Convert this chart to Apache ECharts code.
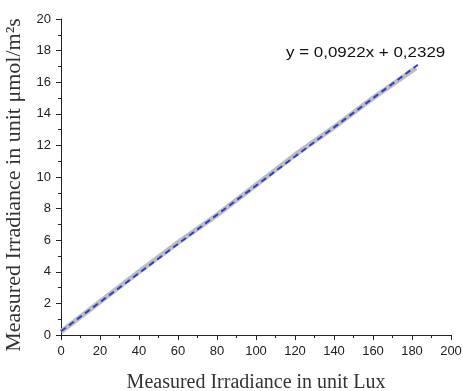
<!DOCTYPE html>
<html>
<head>
<meta charset="utf-8">
<script src="https://cdn.jsdelivr.net/npm/echarts@6/dist/echarts.min.js"></script>
<style>
  html, body { margin: 0; padding: 0; background: #fff; }
  #chart { width: 463px; height: 391px; }
</style>
</head>
<body>
<div id="chart"></div>
<script>
// measured points (lux -> umol/m2s)
var luxValues = [0, 10, 20, 40, 60, 80, 100, 120, 140, 160, 182];
var parValues = [0.2, 1.15, 2.1, 4.0, 5.85, 7.6, 9.5, 11.4, 13.15, 15.0, 16.9];

// linear fit shown in the chart
var slope = 0.0922;
var intercept = 0.2329;
var fitRange = [0, 183];
var fitLabel = 'y = 0,0922x + 0,2329';

var xTicks = [0, 200, 20];
var yTicks = [0, 20, 2];

var measured = luxValues.map(function (x, i) { return [x, parValues[i]]; });
var fitted = fitRange.map(function (x) { return [x, slope * x + intercept]; });

var chart = echarts.init(document.getElementById('chart'));
chart.setOption({
  animation: false,
  backgroundColor: '#ffffff',
  grid: { left: 61, right: 12, top: 19, bottom: 56, containLabel: false, outerBoundsMode: 'none' },
  xAxis: {
    type: 'value',
    min: xTicks[0], max: xTicks[1], interval: xTicks[2],
    name: 'Measured Irradiance in unit Lux',
    nameLocation: 'middle',
    nameGap: 38,
    nameTextStyle: { fontFamily: 'Liberation Serif', fontSize: 20, color: '#333' },
    axisLine: { lineStyle: { color: '#222', width: 1 } },
    axisTick: { inside: false, length: 5, lineStyle: { color: '#222' } },
    minorTick: { show: true, splitNumber: 2, length: 3, lineStyle: { color: '#222' } },
    axisLabel: { fontFamily: 'Liberation Sans', fontSize: 13, color: '#222', margin: 10 },
    splitLine: { show: false }
  },
  yAxis: {
    type: 'value',
    min: yTicks[0], max: yTicks[1], interval: yTicks[2],
    name: 'Measured Irradiance in unit \u03bcmol/m\u00b2s',
    nameLocation: 'middle',
    nameGap: 32,
    nameTextStyle: { fontFamily: 'Liberation Serif', fontSize: 22, color: '#333', padding: [0, 16, 0, 0] },
    axisLine: { show: true, lineStyle: { color: '#222', width: 1 } },
    axisTick: { show: true, inside: false, length: 5, lineStyle: { color: '#222' } },
    minorTick: { show: true, splitNumber: 2, length: 3, lineStyle: { color: '#222' } },
    axisLabel: { fontFamily: 'Liberation Sans', fontSize: 13, color: '#222', margin: 10 },
    splitLine: { show: false }
  },
  graphic: [{
    type: 'text',
    x: 286,
    y: 45,
    scaleX: 1.13,
    style: { x: 0, y: 0, text: fitLabel, fontFamily: 'Liberation Sans', fontSize: 15, fill: '#111', verticalAlign: 'top' }
  }],
  series: [
    {
      name: 'measured',
      type: 'line',
      data: measured,
      showSymbol: false,
      lineStyle: { color: '#bdbdbd', width: 5 }
    },
    {
      name: 'fit',
      type: 'line',
      data: fitted,
      showSymbol: false,
      lineStyle: { color: '#2b3fd6', width: 2, type: [6, 4] }
    }
  ]
});
</script>
</body>
</html>
